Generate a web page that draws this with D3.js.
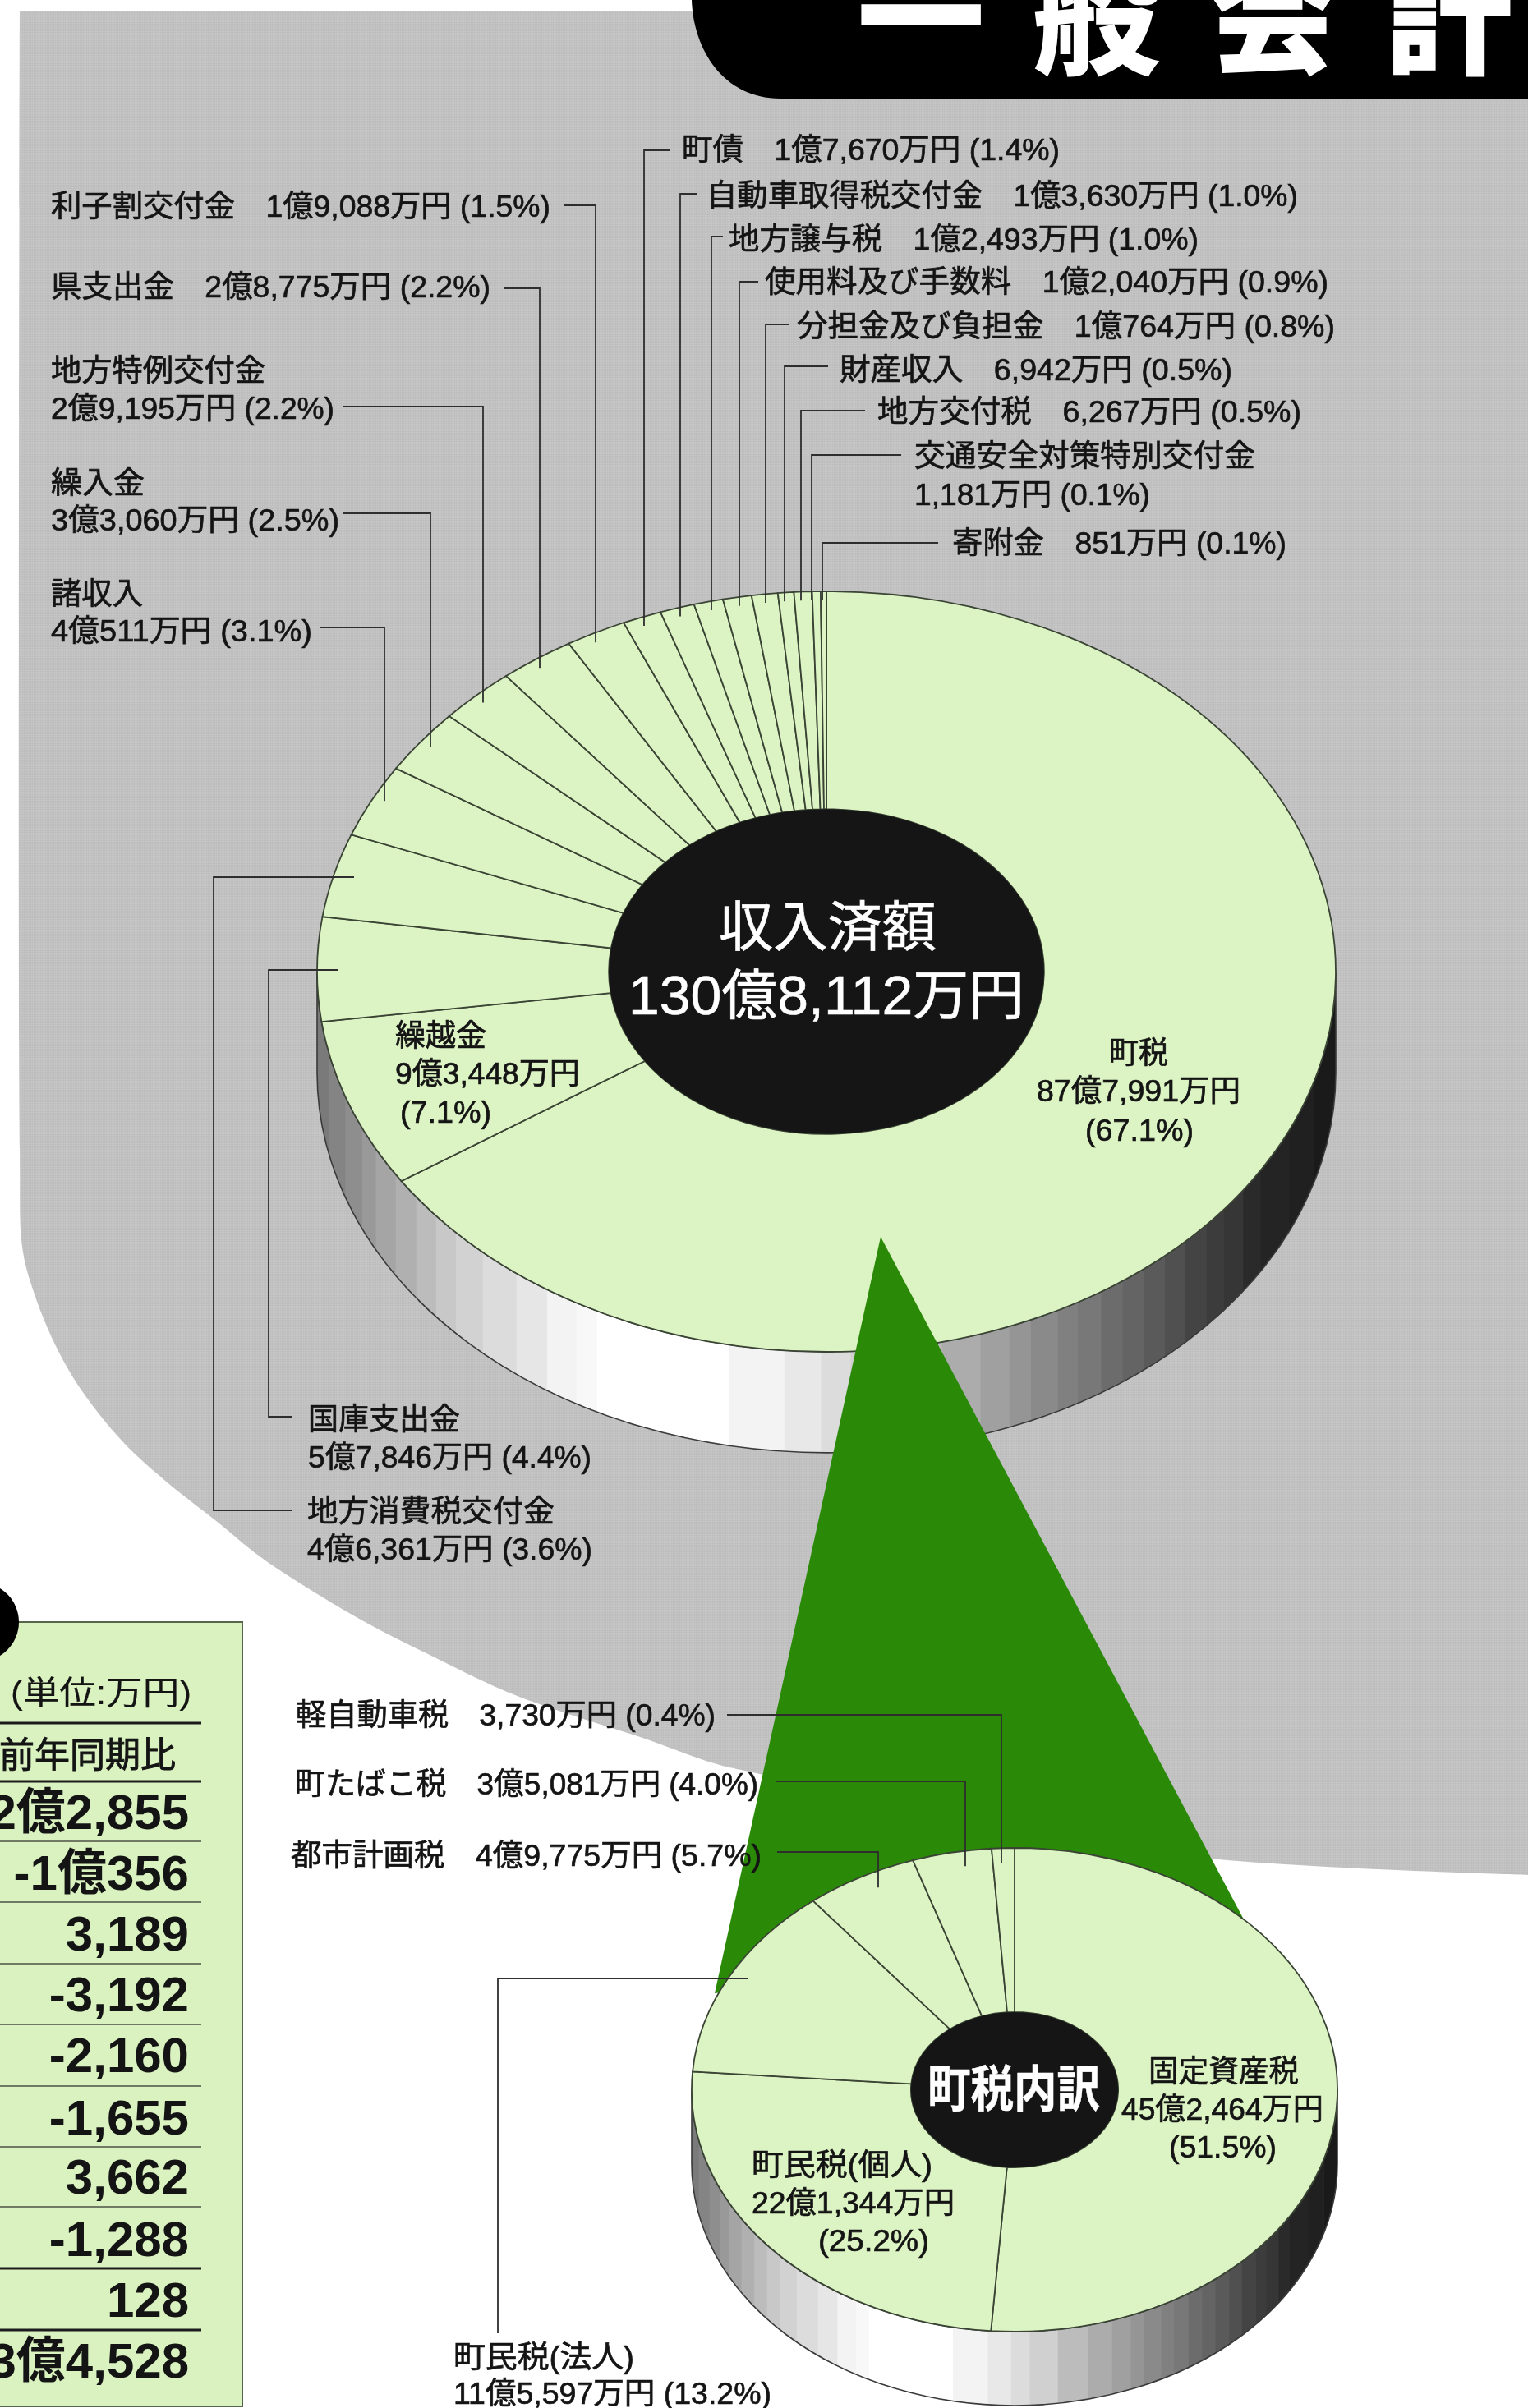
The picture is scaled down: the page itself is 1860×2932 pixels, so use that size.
<!DOCTYPE html>
<html lang="ja"><head><meta charset="utf-8">
<script src="https://cdn.jsdelivr.net/npm/d3@7"></script>
<style>html,body{margin:0;padding:0;background:#fff}svg{display:block;filter:blur(.55px)}</style>
</head><body><svg id="c" width="1860" height="2932" viewBox="0 0 1860 2932"></svg>
<script>
// ---------- data ----------
const revenueNames = ["町税","繰越金","国庫支出金","地方消費税交付金","諸収入","繰入金","地方特例交付金","県支出金","利子割交付金","町債","自動車取得税交付金","地方譲与税","使用料及び手数料","分担金及び負担金","財産収入","地方交付税","交通安全対策特別交付金","寄附金"];
const revenueValues = [877991,93448,57846,46361,40511,33060,29195,28775,19088,17670,13630,12493,12040,10764,6942,6267,1181,851];
const revenuePercents = [67.1,7.1,4.4,3.6,3.1,2.5,2.2,2.2,1.5,1.4,1.0,1.0,0.9,0.8,0.5,0.5,0.1,0.1];
const taxNames = ["固定資産税","町民税(個人)","町民税(法人)","都市計画税","町たばこ税","軽自動車税"];
const taxValues = [452464,221344,115597,49775,35081,3730];
const taxPercents = [51.5,25.2,13.2,5.7,4.0,0.4];
const tableChanges = [22855,-10356,3189,-3192,-2160,-1655,3662,-1288,128,34528];
const titleChars = ["一","般","会","計"];
const revenueCentre = ["収入済額","130億8,112万円"];
const taxCentre = "町税内訳";
const tableUnit = "(単位:万円)";
const tableHeader = "前年同期比";

// ---------- layout (not data) ----------
const F = '"Liberation Sans","Noto Sans CJK JP",sans-serif';
const PIE_FILL="#dcf3c3", LINE="#3a4434", INK="#141414";
// the drawn pies are hand-warped: cumulative share (%) -> drawn angle (deg)
const mainPie={cx:1006,cy:1183,rx:620,ry:463,depth:123,hole:.4272,
  shareAnchors:[0,67.1,74.2,78.6,82.2,85.3,87.8,90,92.2,93.7,95.1,96.1,97.1,98,98.8,99.3,99.8,99.9,100],
  angleAnchors:[0,236.5,262.2,278,291,302.2,312,320.7,329.2,336.4,341,344.8,348.3,351.5,354.4,356.1,357.9,359,360], leaderK:.977};
const taxPie={cx:1235,cy:2544.5,rx:393,ry:294.5,depth:90,hole:.321,
  shareAnchors:[0,99.6,100], angleAnchors:[0,356,360], leaderK:.937};
const bandEdges=[-1,-.977,-.944,-.911,-.884,-.845,-.805,-.766,-.727,-.674,-.608,-.548,-.49,-.45,-.19,-.082,-.01,.048,.135,.227,.303,.36,.402,.455,.494,.54,.582,.623,.665,.705,.747,.781,.819,.853,.91,.958,1];
const bandGreys=[0x7a,0x84,0x8e,0x99,0xa5,0xb0,0xbc,0xc8,0xd2,0xdc,0xe6,0xf3,0xf8,0xff,0xf3,0xe8,0xdc,0xd0,0xbc,0xac,0xa0,0x95,0x8a,0x80,0x78,0x6c,0x64,0x5a,0x50,0x44,0x3c,0x36,0x2a,0x24,0x20,0x1a];
const grayOutline=[[24,14],[24,1400],[27,1518],[40,1570],[67,1637],[100,1694],[150,1756],[200,1802],[267,1855],[312,1892],[364,1927],[448,1977],[533,2020],[617,2060],[701,2090],[785,2117],[869,2147],[925,2160],[1200,2225],[1483,2264],[1860,2283]];
// each text line: part, x0, x1, y
const revenueLabels=[
 [["n",1350,1422,1282],["v",1262,1510,1328],["p",1321,1453,1376]],
 [["n",481,592,1261],["v",481,706,1307],["p",487,598,1354]],
 [["n",375,560,1728],["vp",375,720,1774]],
 [["n",374,675,1840],["vp",374,721,1886]],
 [["n",62,174,723],["vp",62,380,768]],
 [["n",62,176,588],["vp",62,413,633]],
 [["n",62,323,451],["vp",62,407,497]],
 [["b",62,597,349]],
 [["b",62,670,251]],
 [["b",830,1290,182]],
 [["b",860,1580,238]],
 [["b",887,1459,291]],
 [["b",931,1617,343]],
 [["b",970,1625,397]],
 [["b",1022,1500,450]],
 [["b",1068,1584,501]],
 [["n",1113,1528,555],["vp",1113,1400,602]],
 [["b",1159,1566,661]]];
const taxLabels=[
 [["n",1398,1581,2522],["v",1365,1611,2568],["p",1423,1554,2614]],
 [["n",915,1135,2636],["v",915,1162,2682],["p",996,1131,2728]],
 [["n",552,772,2870],["vp",552,939,2914]],
 [["b",354,927,2259]],
 [["b",359,923,2172]],
 [["b",360,871,2088]]];
// leader routes: from label end (x,y), along y to vertical at lx, down to the ring of radius k
const revenueLeaders=[
 {x:355,y:1725,lx:327,level:1181,end:412},{x:355,y:1839,lx:260,level:1068,end:431},
 {x:389,y:764,lx:468},{x:418,y:625,lx:524},{x:418,y:495,lx:588},{x:614,y:351,lx:657},{x:686,y:250,lx:725},
 {x:815,y:183,lx:784},{x:849,y:236,lx:828},{x:880,y:288,lx:866},{x:923,y:343,lx:900},{x:961,y:395,lx:932},
 {x:1008,y:446,lx:955},{x:1053,y:500,lx:975},{x:1097,y:554,lx:988},{x:1142,y:661,lx:1001}];
const taxLeaders=[
 {x:606,y:2841,lx:606,level:2409,end:911},
 {x:946,y:2255,lx:1069},{x:945,y:2169,lx:1175},{x:885,y:2088,lx:1219}];
const tableRowY=[2206,2280,2354,2428,2502,2578,2650,2726,2800,2874];
const tableThin=[2242,2316,2391,2465,2540,2614,2687];
const tableThick=[2098,2169,2762,2837];

// ---------- helpers ----------
const svg=d3.select("#c");
const defs=svg.append("defs");
const pat=defs.append("pattern").attr("id","dither").attr("width",2).attr("height",2).attr("patternUnits","userSpaceOnUse");
pat.append("rect").attr("width",2).attr("height",2).attr("fill","#c1c1c1");
pat.append("rect").attr("width",1).attr("height",1).attr("fill","#c6c6c6");
pat.append("rect").attr("x",1).attr("y",1).attr("width",1).attr("height",1).attr("fill","#bdbdbd");

const groupF=d3.format(",");
const yen=v=>{const o=Math.floor(v/10000),m=v%10000;return (o?o+"億":"")+groupF(m)+"万円";};
const pct=p=>"("+p.toFixed(1)+"%)";
function lineText(part,name,v,p){
  return {n:name,v:yen(v),p:pct(p),vp:yen(v)+" "+pct(p),b:name+"　"+yen(v)+" "+pct(p)}[part];
}
function fitText(g,str,x0,x1,y,opt={}){
  const fs=opt.size||37;
  return g.append("text").attr("x",x0).attr("y",y+fs*.36).attr("textLength",x1-x0)
    .attr("lengthAdjust","spacingAndGlyphs").attr("font-family",F).attr("font-size",fs)
    .attr("font-weight",opt.weight||400).attr("fill",opt.fill||INK)
    .attr("stroke",opt.stroke||INK).attr("stroke-width",opt.sw==null?.7:opt.sw).text(str);
}

function drawPie(conf,id,values){
  const {cx,cy,rx,ry,depth,hole}=conf;
  const g=svg.append("g");
  const sideD=`M${cx-rx},${cy}A${rx},${ry} 0 0 0 ${cx+rx},${cy}L${cx+rx},${cy+depth}A${rx},${ry} 0 0 1 ${cx-rx},${cy+depth}Z`;
  defs.append("clipPath").attr("id",id).append("path").attr("d",sideD);
  const side=g.append("g").attr("clip-path",`url(#${id})`);
  const bx=d3.scaleLinear().domain([-1,1]).range([cx-rx,cx+rx]);
  side.selectAll("rect").data(bandGreys).join("rect")
    .attr("x",(d,i)=>bx(bandEdges[i])-.3).attr("width",(d,i)=>bx(bandEdges[i+1])-bx(bandEdges[i])+.6)
    .attr("y",cy).attr("height",ry+depth+2).attr("fill",d=>d3.rgb(d,d,d));
  g.append("path").attr("d",sideD).attr("fill","none").attr("stroke","#3a3a3a").attr("stroke-width",1.6);

  const angle=d3.scaleLinear().domain(conf.shareAnchors).range(conf.angleAnchors.map(a=>a*Math.PI/180));
  const arcs=d3.pie().sort(null).value(d=>d)(values).map(a=>({...a,
    startAngle:angle(a.startAngle/(2*Math.PI)*100),endAngle:angle(a.endAngle/(2*Math.PI)*100)}));
  const arc=d3.arc().outerRadius(rx).innerRadius(rx*hole);
  const face=g.append("g").attr("transform",`translate(${cx},${cy}) scale(1,${ry/rx})`);
  face.selectAll("path").data(arcs).join("path").attr("d",arc)
    .attr("fill",PIE_FILL).attr("stroke",LINE).attr("stroke-width",1.8)
    .attr("vector-effect","non-scaling-stroke");
  g.append("ellipse").attr("cx",cx).attr("cy",cy).attr("rx",rx*hole).attr("ry",ry*hole).attr("fill","#151515");
  return g;
}
function drawLeaders(conf,list,layer){
  const line=d3.line();
  const {cx,cy,rx,ry,leaderK:k}=conf;
  layer.selectAll(null).data(list).join("path").attr("fill","none").attr("stroke","#2e2e2e").attr("stroke-width",1.8)
    .attr("d",d=>{
      if(d.level!=null) return line([[d.x,d.y],[d.lx,d.y],[d.lx,d.level],[d.end,d.level]].filter((p,i,a)=>i==0||p[0]!=a[i-1][0]||p[1]!=a[i-1][1]));
      const t=(d.lx-cx)/rx, ay=cy-ry*Math.sqrt(k*k-t*t);
      return line([[d.x,d.y],[d.lx,d.y],[d.lx,ay]]);
    });
}
function drawLabels(layout,names,values,percents,layer){
  layout.forEach((lines,i)=>lines.forEach(([part,x0,x1,y])=>
    fitText(layer,lineText(part,names[i],values[i],percents[i]),x0,x1,y)));
}

// ---------- background ----------
const grayLine=d3.line().curve(d3.curveCatmullRom.alpha(.5));
svg.append("path").attr("fill","url(#dither)").attr("d",grayLine(grayOutline)+"L1860,14Z");

// title tab
svg.append("path").attr("fill","#000").attr("d","M842,0C844,60 880,120 950,120H1860V0Z");
svg.append("g").selectAll("text").data(titleChars).join("text")
  .attr("x",(d,i)=>1121+i*214).attr("y",78).attr("text-anchor","middle")
  .attr("font-family",'"Noto Sans CJK JP",sans-serif').attr("font-weight",900).attr("font-size",156)
  .attr("fill","#fff").text(d=>d);

// ---------- revenue pie, wedge, tax pie ----------
drawPie(mainPie,"sideMain",revenueValues);
svg.append("path").attr("fill","#2a8a08").attr("d",d3.line()([[1072,1506],[1515,2339],[870,2427]])+"Z");
drawPie(taxPie,"sideTax",taxValues);

const ann=svg.append("g");
drawLeaders(mainPie,revenueLeaders,ann);
drawLeaders(taxPie,taxLeaders,ann);
const txt=svg.append("g");
drawLabels(revenueLabels,revenueNames,revenueValues,revenuePercents,txt);
drawLabels(taxLabels,taxNames,taxValues,taxPercents,txt);
fitText(txt,revenueCentre[0],875,1140,1128,{size:66,fill:"#fff",stroke:"#fff",sw:.6});
fitText(txt,revenueCentre[1],765,1247,1211,{size:66,fill:"#fff",stroke:"#fff",sw:.6});
fitText(txt,taxCentre,1129,1339,2543,{size:60,fill:"#fff",stroke:"#fff",sw:.5,weight:700});

// ---------- table ----------
const tb=svg.append("g");
tb.append("rect").attr("x",-10).attr("y",1975).attr("width",305).attr("height",955)
  .attr("fill","#d9f2c0").attr("stroke","#56664a").attr("stroke-width",2);
tb.append("circle").attr("cx",-25).attr("cy",1975).attr("r",48).attr("fill","#000");
tb.selectAll(".thin").data(tableThin).join("line").attr("x1",0).attr("x2",245).attr("y1",d=>d).attr("y2",d=>d)
  .attr("stroke","#4a5244").attr("stroke-width",1.4);
tb.selectAll(".thick").data(tableThick).join("line").attr("x1",0).attr("x2",245).attr("y1",d=>d).attr("y2",d=>d)
  .attr("stroke","#1c1c1c").attr("stroke-width",3);
fitText(tb,tableUnit,13,233,2061,{size:40,sw:.2});
tb.append("text").attr("x",214).attr("y",2152).attr("text-anchor","end").attr("font-family",F).attr("font-size",43)
  .attr("fill",INK).attr("stroke",INK).attr("stroke-width",.9).text(tableHeader);
const change=v=>(v<0?"-":"")+yen(Math.abs(v)).replace("万円","");
tb.selectAll(".val").data(tableChanges).join("text").attr("x",230).attr("y",(d,i)=>tableRowY[i]+21)
  .attr("text-anchor","end").attr("font-family",F).attr("font-size",60).attr("font-weight",700)
  .attr("fill",INK).text(change);
</script></body></html>
